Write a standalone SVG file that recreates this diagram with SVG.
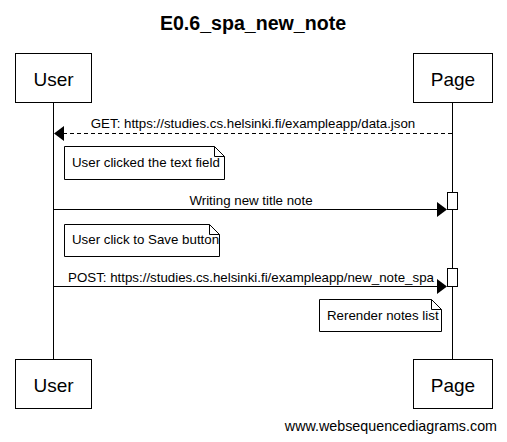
<svg xmlns="http://www.w3.org/2000/svg" width="507" height="442" viewBox="0 0 507 442">
<style>
text{font-family:"Liberation Sans",Arial,sans-serif;fill:#000}
.actor{fill:#fff;stroke:#000;stroke-width:1}
.aname{font-size:19px;text-anchor:middle}
.life{stroke:#000;stroke-width:1}
.msg{stroke:#000;stroke-width:1;fill:none}
.dash{stroke-dasharray:4,3}
.lbl{font-size:13.3px;text-anchor:middle}
.note{fill:#fff;stroke:#000;stroke-width:1}
.ntxt{font-size:13.3px}
.act{fill:#fff;stroke:#000;stroke-width:1}
.head{fill:#000;stroke:none}
</style>
<rect width="507" height="442" fill="#fff"/>
<text x="253" y="30" style="font-size:19.6px;font-weight:bold" text-anchor="middle">E0.6_spa_new_note</text>
<g id="lifelines">
<line class="life" x1="53.5" y1="102" x2="53.5" y2="359"/>
<line class="life" x1="452.5" y1="102" x2="452.5" y2="359"/>
</g>
<g id="user">
<rect class="actor" x="15.5" y="53.5" width="76" height="49"/>
<text class="aname" x="53.5" y="86">User</text>
<rect class="actor" x="15.5" y="359.5" width="76" height="49"/>
<text class="aname" x="53.5" y="392">User</text>
</g>
<g id="page">
<rect class="actor" x="413.5" y="53.5" width="79" height="49"/>
<text class="aname" x="453" y="86">Page</text>
<rect class="actor" x="413.5" y="359.5" width="79" height="49"/>
<text class="aname" x="453" y="392">Page</text>
</g>
<g id="activations">
<rect class="act" x="447.5" y="192.5" width="10" height="17"/>
<rect class="act" x="447.5" y="268.5" width="10" height="18"/>
</g>
<g id="connectors">
<line class="msg dash" x1="452" y1="133.5" x2="60" y2="133.5"/>
<polygon class="head" points="54,133.5 64,126 64,141"/>
<text class="lbl" x="253" y="128">GET: https://studies.cs.helsinki.fi/exampleapp/data.json</text>
<line class="msg" x1="53" y1="209.5" x2="440" y2="209.5"/>
<polygon class="head" points="447,209.5 437,202 437,217"/>
<text class="lbl" x="251" y="205">Writing new title note</text>
<line class="msg" x1="53" y1="286.5" x2="440" y2="286.5"/>
<polygon class="head" points="447,286.5 437,279 437,294"/>
<text class="lbl" x="251" y="282">POST: https://studies.cs.helsinki.fi/exampleapp/new_note_spa</text>
</g>
<g id="note1">
<path class="note" d="M64.5,146.5 H214.5 L224.5,156.5 V179.5 H64.5 Z"/>
<path class="msg" d="M214.5,146.5 V156.5 H224.5"/>
<text class="ntxt" x="72" y="167">User clicked the text field</text>
</g>
<g id="note2">
<path class="note" d="M64.5,224.5 H209.5 L219.5,234.5 V256.5 H64.5 Z"/>
<path class="msg" d="M209.5,224.5 V234.5 H219.5"/>
<text class="ntxt" x="72" y="244">User click to Save button</text>
</g>
<g id="note3">
<path class="note" d="M319.5,299.5 H431.5 L441.5,309.5 V331.5 H319.5 Z"/>
<path class="msg" d="M431.5,299.5 V309.5 H441.5"/>
<text class="ntxt" x="327" y="320">Rerender notes list</text>
</g>
<text x="497" y="431" style="font-size:14.3px" text-anchor="end">www.websequencediagrams.com</text>
</svg>
